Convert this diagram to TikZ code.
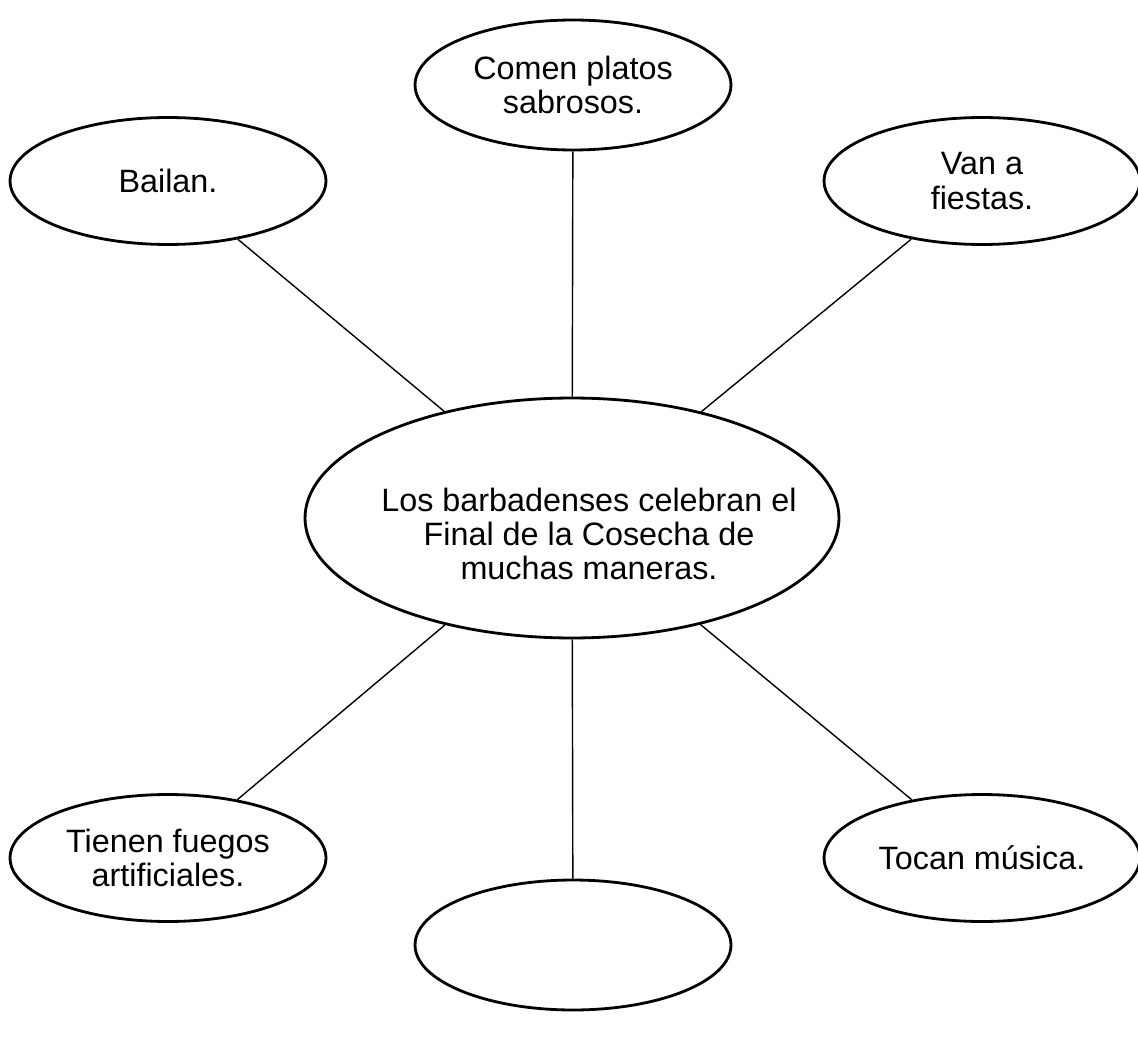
\documentclass[tikz,border=0pt]{standalone}
\usepackage{fontspec}
\setmainfont{Liberation Sans}
\usetikzlibrary{shapes}

\begin{document}
\begin{tikzpicture}[x=0.02cm, y=-0.02cm,
    tx/.style={align=center, inner sep=0pt, font=\fontsize{18.4}{19.4}\selectfont},
    ec/.style={ellipse, draw, line width=1.6pt, inner sep=0pt, tx,
      minimum width=6.32cm, minimum height=2.54cm}]
            \useasboundingbox (0,0) rectangle (1138,1040);
            \draw (573,85)  node[ec, minimum height=2.6cm](comen){Comen platos\\sabrosos.};
            \draw (168,181) node[ec](bailan){Bailan.};
            \draw (982,181) node[ec](fiestas){Van a\\fiestas.};
            \draw (572,518) node[ec, minimum width=10.68cm, minimum height=4.8cm,
                label={[tx, xshift=.34cm, yshift=-.32cm]center:Los barbadenses celebran el\\Final de la Cosecha de\\muchas maneras.}](mid){};
            \draw (168,858) node[ec](fuegos){Tienen fuegos\\artificiales.};
            \draw (573,945) node[ec, minimum height=2.6cm](vacio){};
            \draw (982,858) node[ec](musica){Tocan m\'usica.};
            \begin{scope}[line width=.8pt]
                \draw (mid) -- (comen);
                \draw (mid) -- (bailan);
                \draw (mid) -- (fiestas);
                \draw (mid) -- (fuegos);
                \draw (mid) -- (vacio);
                \draw (mid) -- (musica);
            \end{scope}
        \end{tikzpicture}
\end{document}
